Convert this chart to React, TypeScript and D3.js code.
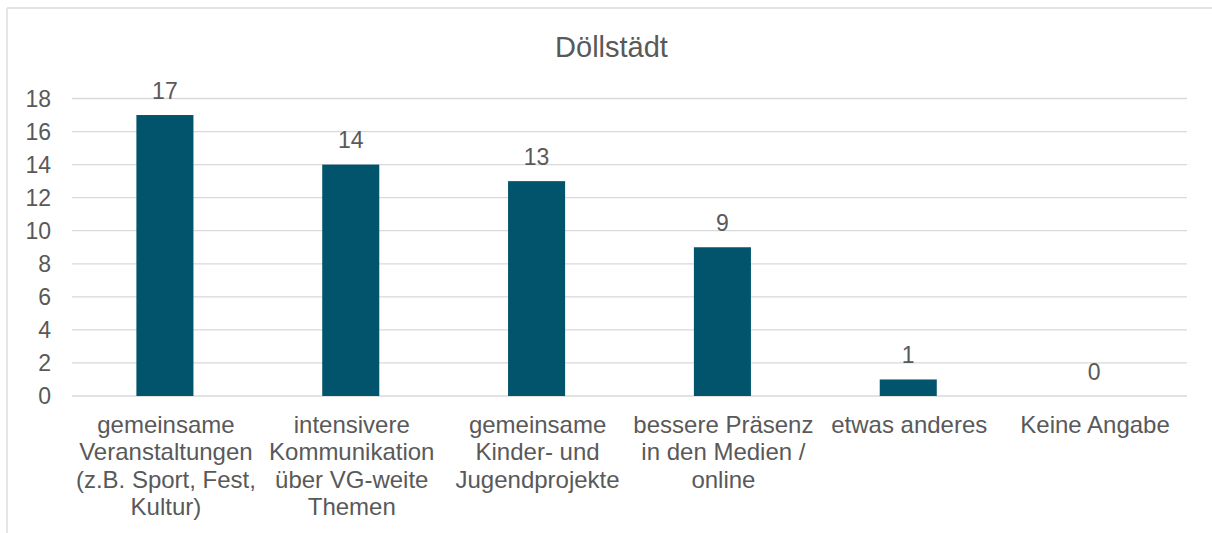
import React from "react";
import * as d3 from "d3";

const title = "Döllstädt";
const categories = [
  "gemeinsame Veranstaltungen (z.B. Sport, Fest, Kultur)",
  "intensivere Kommunikation über VG-weite Themen",
  "gemeinsame Kinder- und Jugendprojekte",
  "bessere Präsenz in den Medien / online",
  "etwas anderes",
  "Keine Angabe",
];
const categoryLines = [
  ["gemeinsame", "Veranstaltungen", "(z.B. Sport, Fest,", "Kultur)"],
  ["intensivere", "Kommunikation", "über VG-weite", "Themen"],
  ["gemeinsame", "Kinder- und", "Jugendprojekte"],
  ["bessere Präsenz", "in den Medien /", "online"],
  ["etwas anderes"],
  ["Keine Angabe"],
];
const values = [17, 14, 13, 9, 1, 0];
const yTicks = [0, 2, 4, 6, 8, 10, 12, 14, 16, 18];

const W = 1212;
const H = 533;
const TEXT = "#595959";
const GRID = "#d9d9d9";
const BAR = "#02546D";
const FONT = "'Liberation Sans', Arial, sans-serif";

export default function App() {
  const x = d3.scaleBand<string>().domain(categories).range([72, 1187]).paddingInner(0).paddingOuter(0);
  const y = d3.scaleLinear().domain([0, 18]).range([396, 98.5]);
  const barW = x.bandwidth() * 0.307;

  return (
    <svg
      width={W}
      height={H}
      style={{ position: "absolute", left: 0, top: 0, background: "#fff" }}
      fontFamily={FONT}
    >
      <rect x={0} y={0} width={W} height={H} fill="#fff" />
      <line x1={7} y1={8} x2={W} y2={8} stroke={GRID} strokeWidth={1.3} />
      <line x1={7} y1={8} x2={7} y2={H} stroke={GRID} strokeWidth={1.3} />

      <text x={611.5} y={57.3} textAnchor="middle" fontSize={29} fill={TEXT}>
        {title}
      </text>

      {yTicks.map((t) => (
        <g key={t}>
          <line x1={72} x2={1187} y1={y(t)} y2={y(t)} stroke={GRID} strokeWidth={1.3} />
          <text x={51} y={y(t) + 8} textAnchor="end" fontSize={23} fill={TEXT}>
            {t}
          </text>
        </g>
      ))}

      {categories.map((c, i) => {
        const cx = (x(c) as number) + x.bandwidth() / 2;
        const v = values[i];
        return (
          <g key={c}>
            {v > 0 && (
              <rect x={cx - barW / 2} y={y(v)} width={barW} height={y(0) - y(v)} fill={BAR} />
            )}
            <text x={cx} y={y(v) - 16.5} textAnchor="middle" fontSize={23} fill={TEXT}>
              {v}
            </text>
            <text textAnchor="middle" fontSize={24} fill={TEXT}>
              {categoryLines[i].map((ln, j) => (
                <tspan key={j} x={cx + 1} y={433 + j * 27.4}>
                  {ln}
                </tspan>
              ))}
            </text>
          </g>
        );
      })}
    </svg>
  );
}
